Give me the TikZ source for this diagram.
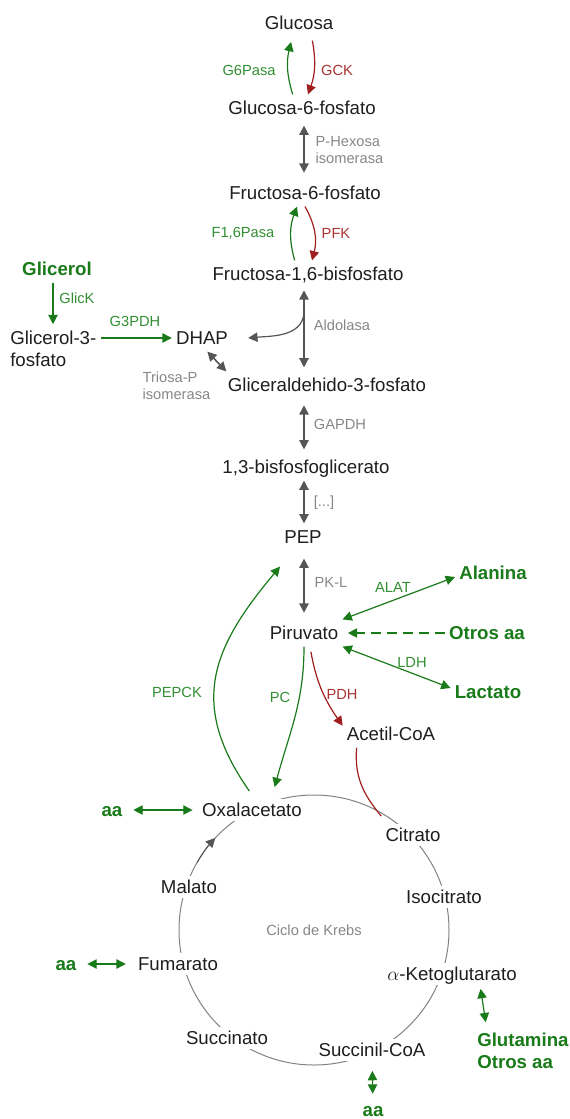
\documentclass[tikz,border=0pt]{standalone}
\usepackage{fontspec}
\setmainfont{Liberation Sans}
\usepackage{tikz}
\usetikzlibrary{arrows.meta, positioning}
\definecolor{metblack}{RGB}{30,30,30}
\definecolor{pathgreen}{RGB}{25,122,25}
\definecolor{labgreen}{RGB}{50,142,50}
\definecolor{pathred}{RGB}{160,30,30}
\definecolor{labred}{RGB}{170,50,50}
\definecolor{labgray}{RGB}{135,135,135}
\definecolor{arrgray}{RGB}{85,85,85}
\definecolor{ringgray}{RGB}{130,130,130}
\tikzset{
		met/.style={font=\fontsize{14}{16.5}\selectfont, text=metblack, inner xsep=3pt, inner ysep=5pt, text height=10pt, text depth=0pt},
		metlines/.style={font=\fontsize{14}{16.5}\selectfont, text=metblack, align=left, inner xsep=3pt, inner ysep=5pt},
		feed/.style={met, font=\fontsize{14}{16.5}\selectfont\bfseries, text=pathgreen},
		feedlines/.style={metlines, font=\fontsize{14}{16.5}\selectfont\bfseries, text=pathgreen},
		cyc/.style={met, fill=white, inner ysep=3pt},
		enz/.style={font=\fontsize{11}{12.5}\selectfont, text=labgray, inner sep=1pt},
		enzg/.style={enz, text=labgreen},
		enzr/.style={enz, text=labred},
		grayarr/.style={draw=arrgray, line width=1.2pt},
		greenarr/.style={draw=pathgreen, line width=0.9pt},
		redarr/.style={draw=pathred, line width=0.9pt},
		krebsring/.style={circle, draw=ringgray, line width=0.75pt, minimum size=202.5pt, inner sep=0pt, outer sep=0pt, font=\fontsize{11}{12.5}\selectfont, text=labgray}
	}
\begin{document}
\begin{tikzpicture}[x=0.75pt, y=0.75pt, >={Triangle[length=7pt,width=7pt]}]
				\useasboundingbox (0,0) rectangle (570,-1119);

				% Krebs ring under its metabolites
				\node[krebsring] (krebs) at (314,-930) {Ciclo de Krebs};
				\draw[draw=arrgray, line width=0.75pt, ->] (krebs.150) arc[start angle=150, end angle=137, radius=101.25pt];

				\node[met]                  (glu)      at (299,-23)   {Glucosa};
				\node[met]                  (g6p)      at (302,-108)  {Glucosa-6-fosfato};
				\node[met]                  (f6p)      at (305,-193)  {Fructosa-6-fosfato};
				\node[met]                  (f16bp)    at (308,-274)  {Fructosa-1,6-bisfosfato};
				\node[met]                  (dhap)     at (202,-338)  {DHAP};
				\node[met]                  (gap)      at (327,-385)  {Gliceraldehido-3-fosfato};
				\node[met]                  (bpg)      at (306,-467)  {1,3-bisfosfoglicerato};
				\node[met]                  (pep)      at (303,-537)  {PEP};
				\node[met]                  (pir)      at (304,-633)  {Piruvato};
				\node[met]                  (acoa)     at (391,-734)  {Acetil-CoA};
				\node[feed]                 (glicerol) at (57,-269)   {Glicerol};
				\node[metlines,anchor=west] (gol3p)    at (6,-349)    {Glicerol-3-\\fosfato};
				\node[feed]                 (ala)      at (493,-573)  {Alanina};
				\node[feed]                 (otros)    at (487,-633)  {Otros aa};
				\node[feed]                 (lac)      at (488,-692)  {Lactato};

				\node[cyc]                  (oaa)      at (252,-810)  {Oxalacetato};
				\node[cyc]                  (cit)      at (413,-835)  {Citrato};
				\node[cyc]                  (isocit)   at (444,-897)  {Isocitrato};
				\node[cyc]                  (akg)      at (452,-974)  {$\alpha$-Ketoglutarato};
				\node[cyc]                  (succoa)   at (372,-1050) {Succinil-CoA};
				\node[cyc]                  (succ)     at (227,-1038) {Succinato};
				\node[cyc]                  (fum)      at (178,-964)  {Fumarato};
				\node[cyc]                  (mal)      at (189,-887)  {Malato};
				\node[feed]                 (aa1)      at (112,-810)  {aa};
				\node[feed]                 (aa2)      at (66,-964)   {aa};
				\node[feed]                 (aa3)      at (373,-1110) {aa};
				\node[feedlines,anchor=west] (glut)    at (473,-1051) {Glutamina\\Otros aa};

				% enzymes
				\node[enzg]                (g6pasa)   at (249,-70)   {G6Pasa};
				\node[enzr]                (gck)      at (337,-70)   {GCK};
				\node[enz,align=left,anchor=west] (phi) at (314,-150) {P-Hexosa\\isomerasa};
				\node[enzg]                (f16pasa)  at (243,-233)  {F1,6Pasa};
				\node[enzr]                (pfk)      at (336,-233)  {PFK};
				\node[enzg]                (glick)    at (77,-298)   {GlicK};
				\node[enzg]                (g3pdh)    at (135,-321)  {G3PDH};
				\node[enz]                 (aldolasa) at (342,-325)  {Aldolasa};
				\node[enz,align=left,anchor=west] (tpi) at (141,-385.5) {Triosa-P\\isomerasa};
				\node[enz]                 (gapdh)    at (340,-424)  {GAPDH};
				\node[enz]                 (pasos)    at (324,-503)  {[...]};
				\node[enz]                 (pkl)      at (331,-582)  {PK-L};
				\node[enzg]                (alat)     at (393,-587)  {ALAT};
				\node[enzg]                (ldh)      at (412,-662)  {LDH};
				\node[enzg]                (pepck)    at (177,-692)  {PEPCK};
				\node[enzg]                (pc)       at (280,-697)  {PC};
				\node[enzr]                (pdh)      at (342,-694)  {PDH};

				\coordinate (ax)   at (304,0);
				\coordinate (aldo) at (304,-313);

				\path[->]  ([xshift=-7pt]g6p.north) edge [greenarr, bend left=15] ([xshift=-6pt,yshift=-4pt]glu.south);
				\path[->]  ([xshift=10pt,yshift=-3pt]glu.south) edge [redarr, bend left=15] ([xshift=4.5pt]g6p.north);
				\path[<->] (g6p.south -| ax) edge [grayarr, shorten <=3pt, shorten >=5pt] (f6p.north -| ax);
				\path[->]  ([xshift=-10pt]f16bp.north) edge [greenarr, bend left=18] ([xshift=-6pt]f6p.south);
				\path[->]  (f6p.south) edge [redarr, bend left=22] ([xshift=3pt]f16bp.north);
				\path[<->] (f16bp.south -| ax) edge [grayarr, shorten <=2pt, shorten >=3pt] (gap.north -| ax);
				\path[->]  (aldo) edge [draw=arrgray, line width=0.9pt, out=-95, in=5] ([xshift=12pt]dhap.east);
				\path[->]  ([xshift=-3pt]glicerol.south) edge [greenarr] ([xshift=-3pt]glicerol.south |- gol3p.north);
				\path[->]  (gol3p.east |- dhap) edge [greenarr] (dhap.west);
				\path[<->] ([xshift=4pt]dhap.south) edge [grayarr] ([xshift=2pt]gap.north west);
				\path[<->] (gap.south -| ax) edge [grayarr, shorten <=5pt, shorten >=3pt] (bpg.north -| ax);
				\path[<->] (bpg.south -| ax) edge [grayarr] (pep.north -| ax);
				\path[<->] (pep.south -| ax) edge [grayarr, shorten <=6pt, shorten >=5pt] (pir.north -| ax);

				\path[<->] (pir.north east) edge [greenarr] ([yshift=-3pt]ala.west);
				\path[->]  (otros.west) edge [greenarr, dash pattern=on 7.5pt off 4.5pt, shorten >=4pt] (pir.east);
				\path[<->] (pir.south east) edge [greenarr] ([yshift=3pt]lac.west);
				\path[->]  ([xshift=4.5pt]pir.south) edge [redarr, out=-80, in=125, shorten <=4pt] ([yshift=-4pt]acoa.north west);
				\path      ([xshift=10.5pt]acoa.south west) edge [redarr, out=-95, in=130] ([yshift=6pt]cit.north west);
				\path[->]  (pir.south) edge [greenarr, out=-90, in=75] ([xshift=17pt,yshift=9pt]oaa.north);
				\path[->]  ([xshift=-2pt,yshift=6pt]oaa.north) edge [greenarr, out=125, in=-130, looseness=1.2] ([yshift=-12pt]pep.south west);

				\path[<->] (aa1) edge [greenarr, shorten <=5pt, shorten >=4pt] (oaa);
				\path[<->] (aa2) edge [greenarr, shorten <=5pt, shorten >=6pt] (fum);
				\path[<->] (succoa) edge [greenarr, shorten <=7.5pt, shorten >=2pt] (aa3);
				\path[<->] ([xshift=21pt]akg.south) edge [greenarr, shorten <=3pt, shorten >=3pt] ([xshift=10pt]glut.north west);
			\end{tikzpicture}
\end{document}
